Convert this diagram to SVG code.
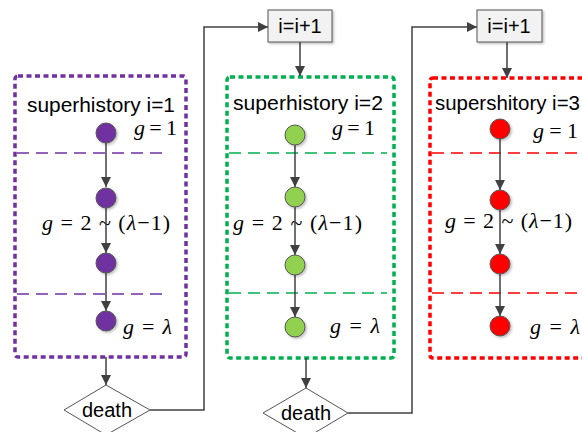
<svg xmlns="http://www.w3.org/2000/svg" width="582" height="432" viewBox="0 0 582 432">
<defs>
<marker id="arr" viewBox="0 0 10 10" refX="10" refY="5" markerWidth="10" markerHeight="10" markerUnits="userSpaceOnUse" orient="auto">
<path d="M0,0 L10,5 L0,10 z" fill="#404040"/>
</marker>
<filter id="sh" x="-30%" y="-30%" width="170%" height="170%">
<feDropShadow dx="1.5" dy="1.5" stdDeviation="1" flood-color="#000" flood-opacity="0.25"/>
</filter>
<style>
.lbl{font-family:"Liberation Sans",Arial,sans-serif;font-size:20px;fill:#000}
.m{font-family:"Liberation Serif","Times New Roman",serif;font-size:22px;fill:#000}
.it{font-style:italic}
.con{fill:none;stroke:#404040;stroke-width:1.5}
.outer{fill:none;stroke-width:3.5;stroke-dasharray:5 3.5;stroke-linejoin:round}
.inner{fill:none;stroke-width:1.6;stroke-dasharray:12 7}
.nd{stroke:#555;stroke-width:1;filter:url(#sh)}
.box{fill:#f2f2f2;stroke:#555;stroke-width:1;filter:url(#sh)}
.dia{fill:#fff;stroke:#555;stroke-width:1}
</style>
</defs>
<rect width="582" height="432" fill="#fff"/>

<g id="super1">
<rect class="outer" x="15" y="76" width="171" height="281" rx="3" stroke="#7030A0"/>
<line class="inner" x1="17" y1="153" x2="167" y2="153" stroke="#7030A0"/>
<line class="inner" x1="17" y1="294" x2="167" y2="294" stroke="#7030A0"/>
<text class="lbl" x="27" y="112" textLength="148" lengthAdjust="spacingAndGlyphs">superhistory i=1</text>
<text class="m" x="134" y="135" textLength="43" lengthAdjust="spacing"><tspan class="it">g</tspan> = 1</text>
<text class="m" x="42" y="230" textLength="128" lengthAdjust="spacing"><tspan class="it">g</tspan> = 2 ~ (<tspan class="it">λ</tspan>−1)</text>
<text class="m" x="123" y="334" textLength="49" lengthAdjust="spacing"><tspan class="it">g</tspan> = <tspan class="it">λ</tspan></text>
</g>

<g id="super2">
<rect class="outer" x="227" y="77" width="167" height="281" rx="3" stroke="#00B050"/>
<line class="inner" x1="229" y1="153" x2="387" y2="153" stroke="#00B050"/>
<line class="inner" x1="229" y1="293" x2="387" y2="293" stroke="#00B050"/>
<text class="lbl" x="233" y="110" textLength="150" lengthAdjust="spacingAndGlyphs">superhistory i=2</text>
<text class="m" x="332" y="135" textLength="43" lengthAdjust="spacing"><tspan class="it">g</tspan> = 1</text>
<text class="m" x="233" y="230" textLength="129" lengthAdjust="spacing"><tspan class="it">g</tspan> = 2 ~ (<tspan class="it">λ</tspan>−1)</text>
<text class="m" x="330" y="333" textLength="50" lengthAdjust="spacing"><tspan class="it">g</tspan> = <tspan class="it">λ</tspan></text>
</g>

<g id="super3">
<rect class="outer" x="430" y="78" width="175" height="280" rx="3" stroke="#FF0000"/>
<line class="inner" x1="432" y1="153" x2="582" y2="153" stroke="#FF0000"/>
<line class="inner" x1="432" y1="293" x2="582" y2="293" stroke="#FF0000"/>
<text class="lbl" x="435" y="110" textLength="145" lengthAdjust="spacingAndGlyphs">supershitory i=3</text>
<text class="m" x="533" y="138" textLength="45" lengthAdjust="spacing"><tspan class="it">g</tspan> = 1</text>
<text class="m" x="445" y="228" textLength="127" lengthAdjust="spacing"><tspan class="it">g</tspan> = 2 ~ (<tspan class="it">λ</tspan>−1)</text>
<text class="m" x="530" y="334" textLength="50" lengthAdjust="spacing"><tspan class="it">g</tspan> = <tspan class="it">λ</tspan></text>
</g>

<g id="connectors">
<line class="con" x1="106" y1="143" x2="106" y2="187" marker-end="url(#arr)"/>
<line class="con" x1="106" y1="208" x2="106" y2="253" marker-end="url(#arr)"/>
<line class="con" x1="106" y1="273" x2="106" y2="311" marker-end="url(#arr)"/>
<line class="con" x1="295" y1="145" x2="295" y2="187" marker-end="url(#arr)"/>
<line class="con" x1="295" y1="207" x2="295" y2="255" marker-end="url(#arr)"/>
<line class="con" x1="295" y1="275" x2="295" y2="317" marker-end="url(#arr)"/>
<line class="con" x1="500" y1="139" x2="500" y2="190" marker-end="url(#arr)"/>
<line class="con" x1="500" y1="210" x2="500" y2="254" marker-end="url(#arr)"/>
<line class="con" x1="500" y1="274" x2="500" y2="316" marker-end="url(#arr)"/>
<line class="con" x1="106" y1="357" x2="106" y2="385" marker-end="url(#arr)"/>
<line class="con" x1="306" y1="358" x2="306" y2="388" marker-end="url(#arr)"/>
<polyline class="con" points="150,410 204,410 204,27 268,27" marker-end="url(#arr)"/>
<polyline class="con" points="348,413 412,413 412,27 477,27" marker-end="url(#arr)"/>
<line class="con" x1="300" y1="42" x2="300" y2="76" marker-end="url(#arr)"/>
<line class="con" x1="507" y1="42" x2="507" y2="78" marker-end="url(#arr)"/>
</g>

<g id="p1"><circle class="nd" cx="106" cy="133" r="10" fill="#7030A0"/></g>
<g id="p2"><circle class="nd" cx="106" cy="198" r="10" fill="#7030A0"/></g>
<g id="p3"><circle class="nd" cx="106" cy="263" r="10" fill="#7030A0"/></g>
<g id="p4"><circle class="nd" cx="106" cy="321" r="10" fill="#7030A0"/></g>
<g id="gn1"><circle class="nd" cx="295" cy="135" r="10" fill="#92D050"/></g>
<g id="gn2"><circle class="nd" cx="295" cy="197" r="10" fill="#92D050"/></g>
<g id="gn3"><circle class="nd" cx="295" cy="265" r="10" fill="#92D050"/></g>
<g id="gn4"><circle class="nd" cx="295" cy="327" r="10" fill="#92D050"/></g>
<g id="r1"><circle class="nd" cx="500" cy="129" r="10" fill="#FF0000"/></g>
<g id="r2"><circle class="nd" cx="500" cy="200" r="10" fill="#FF0000"/></g>
<g id="r3"><circle class="nd" cx="500" cy="264" r="10" fill="#FF0000"/></g>
<g id="r4"><circle class="nd" cx="500" cy="326" r="10" fill="#FF0000"/></g>

<g id="death1">
<polygon class="dia" points="106,385 150,410 106,435 64,410"/>
<text class="lbl" x="107" y="417" text-anchor="middle" font-size="21">death</text>
</g>
<g id="death2">
<polygon class="dia" points="306,388 348,413 306,438 263,413"/>
<text class="lbl" x="306" y="420" text-anchor="middle" font-size="21">death</text>
</g>
<g id="inc1">
<rect class="box" x="268" y="10" width="64" height="32"/>
<text class="lbl" x="300" y="33" text-anchor="middle">i=i+1</text>
</g>
<g id="inc2">
<rect class="box" x="477" y="10" width="65" height="32"/>
<text class="lbl" x="509" y="33" text-anchor="middle">i=i+1</text>
</g>
</svg>
